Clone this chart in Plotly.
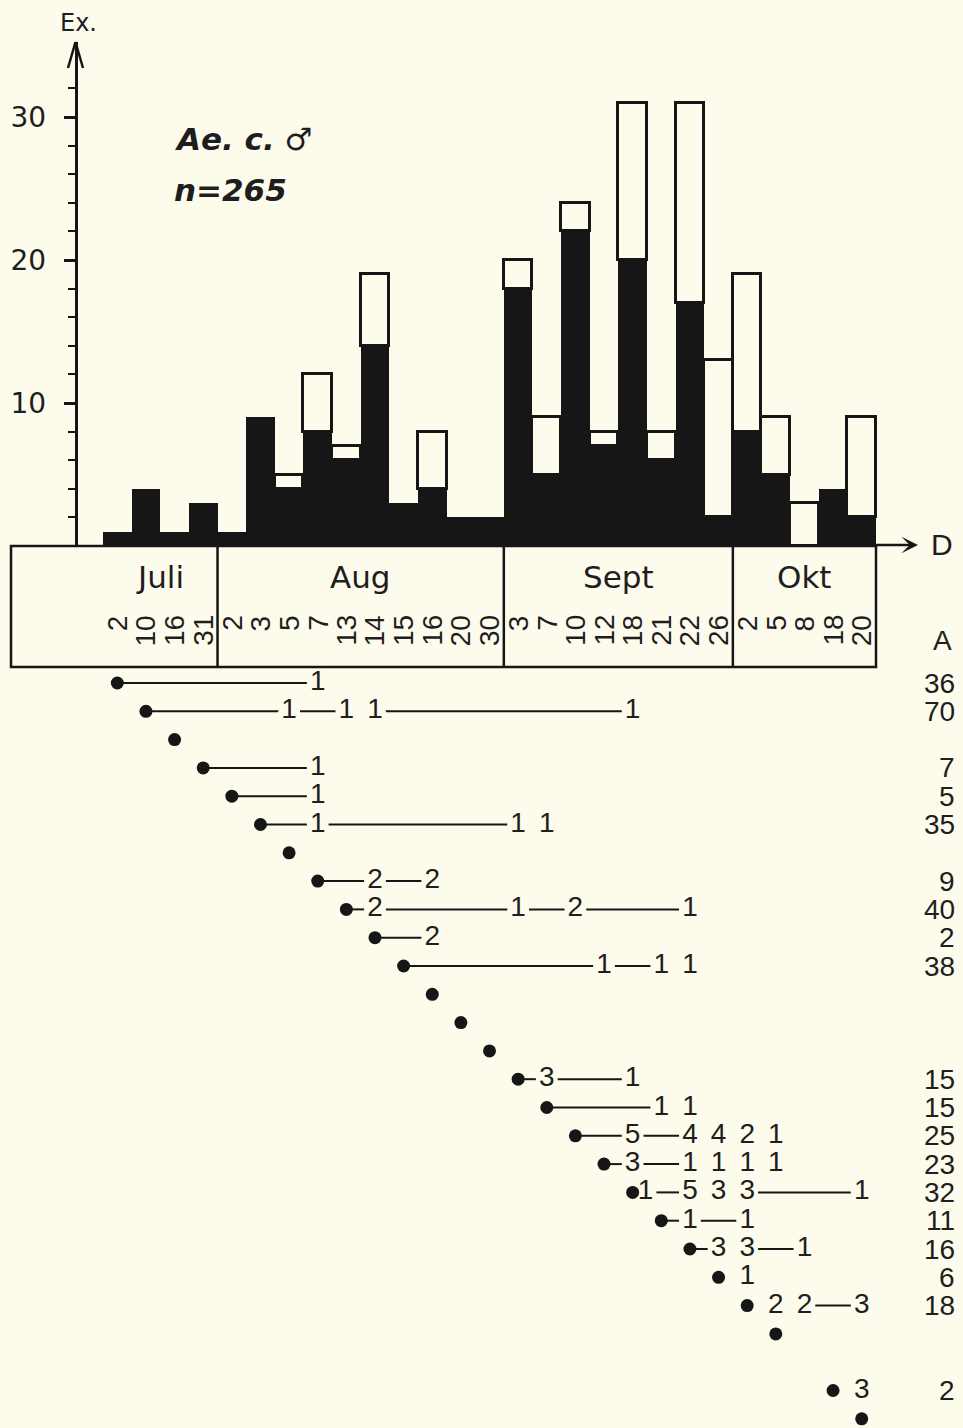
import plotly.graph_objects as go

# ---------------- data ----------------
months = ["Juli", "Aug", "Sept", "Okt"]
month_days = [
    ["2", "10", "16", "31"],
    ["2", "3", "5", "7", "13", "14", "15", "16", "20", "30"],
    ["3", "7", "10", "12", "18", "21", "22", "26"],
    ["2", "5", "8", "18", "20"],
]
# histogram (Ex.) per sampling date: black = newly marked, white = recaptured
newly_marked = [1, 4, 1, 3, 1, 9, 4, 8, 6, 14, 3, 4, 2, 2, 18, 5, 22, 7, 20, 6, 17, 2, 8, 5, 0, 4, 2]
recaptured = [0, 0, 0, 0, 0, 0, 1, 4, 1, 5, 0, 4, 0, 0, 2, 4, 2, 1, 11, 2, 14, 11, 11, 4, 3, 0, 7]

# recapture diagram: one row per marking date (index into the date list)
mark_date = [0, 1, 2, 3, 4, 5, 6, 7, 8, 9, 10, 11, 12, 13, 14, 15, 16, 17, 18, 19, 20, 21, 22, 23, 25, 26]
recap_dates = [
    [7], [6, 8, 9, 18], [], [7], [7], [7, 14, 15], [], [9, 11], [9, 14, 16, 20], [11],
    [17, 19, 20], [], [], [], [15, 18], [19, 20], [18, 20, 21, 22, 23], [18, 20, 21, 22, 23],
    [18, 20, 21, 22, 26], [20, 22], [21, 22, 24], [22], [23, 24, 26], [], [26], [],
]
recap_counts = [
    [1], [1, 1, 1, 1], [], [1], [1], [1, 1, 1], [], [2, 2], [2, 1, 2, 1], [2],
    [1, 1, 1], [], [], [], [3, 1], [1, 1], [5, 4, 4, 2, 1], [3, 1, 1, 1, 1],
    [1, 5, 3, 3, 1], [1, 1], [3, 3, 1], [1], [2, 2, 3], [], [3], [],
]
A_values = [36, 70, None, 7, 5, 35, None, 9, 40, 2, 38, None, None, None,
            15, 15, 25, 23, 32, 11, 16, 6, 18, None, 2, None]
# whether the dot is joined by a dash to a recapture on the very next date
dot_joined = [True] * 21 + [False, False, True, False, True]

y_ticks = [10, 20, 30]
y_minor_ticks = list(range(2, 33, 2))

# ---------------- layout helpers ----------------
FIG_W, FIG_H = 963, 1428
COL_W = 28.63
COL0_LEFT = 103
Y_ZERO_PX, Y_UNIT, Y_TIP = 546, 14.3, 42
ROW0_PX, ROW_H = 683, 28.3
AXIS_X_PX = 75.5
BG = "#fdfbec"
INK = "#161616"
TXT = "#1e1e1e"
FONT = "DejaVu Sans"
NUM_FONT = "Liberation Sans"


def xd(px):
    return (px - COL0_LEFT) / COL_W - 0.5


def yp(py):
    return 1 - py / FIG_H


n_dates = sum(len(m) for m in month_days)
dates_flat = [d for m in month_days for d in m]
idx = list(range(n_dates))

fig = go.Figure()

# histogram bars
fig.add_trace(go.Bar(
    x=idx, y=newly_marked, width=1, marker=dict(color=INK, line=dict(width=0)),
    xaxis="x", yaxis="y", showlegend=False, hoverinfo="skip",
))
fig.add_trace(go.Bar(
    x=idx, y=[v if v else None for v in recaptured], width=1,
    marker=dict(color=BG, line=dict(color=INK, width=3.5)),
    xaxis="x", yaxis="y", showlegend=False, hoverinfo="skip",
))

# recapture diagram
GAP_OFF = 0.38
SAME_DAY_SHIFT = 0.45
seg_x, seg_y, tx, ty, ts = [], [], [], [], []
for m, cols, cnts, join in zip(mark_date, recap_dates, recap_counts, dot_joined):
    pts = [(m, m, True)]
    for c, n in zip(cols, cnts):
        xpos = c + SAME_DAY_SHIFT if c == m else c
        pts.append((c, xpos, False))
        tx.append(xpos)
        ty.append(m)
        ts.append(str(n))
    for (ca, xa, da), (cb, xb, db) in zip(pts[:-1], pts[1:]):
        gap = cb - ca
        if gap >= 2 or (gap == 1 and da and join):
            x0 = xa if da else xa + GAP_OFF
            x1 = xb - GAP_OFF
            seg_x += [x0, x1, None]
            seg_y += [m, m, None]

fig.add_trace(go.Scatter(
    x=seg_x, y=seg_y, mode="lines", line=dict(color=INK, width=2),
    xaxis="x", yaxis="y2", showlegend=False, hoverinfo="skip", cliponaxis=False,
))
fig.add_trace(go.Scatter(
    x=mark_date, y=mark_date, mode="markers", marker=dict(color=INK, size=13),
    xaxis="x", yaxis="y2", showlegend=False, hoverinfo="skip", cliponaxis=False,
))
fig.add_trace(go.Scatter(
    x=tx, y=ty, text=ts, mode="text", textposition="middle center",
    textfont=dict(family=NUM_FONT, size=28, color=TXT),
    xaxis="x", yaxis="y2", showlegend=False, hoverinfo="skip", cliponaxis=False,
))


def label(text, xpx, ypx, size, xanchor="center", family=FONT, **kw):
    return dict(text=text, x=xpx / FIG_W, y=yp(ypx), xref="paper", yref="paper",
                xanchor=xanchor, yanchor="middle", showarrow=False,
                font=dict(family=family, size=size, color=TXT), **kw)


annotations = []
# A column
annotations.append(label("A", 942, 640, 28, family=NUM_FONT))
for m, a in zip(mark_date, A_values):
    if a is not None:
        annotations.append(dict(text=str(a), x=957 / FIG_W, y=m, xref="paper", yref="y2",
                                xanchor="right", yanchor="middle", showarrow=False,
                                font=dict(family=NUM_FONT, size=28, color=TXT)))

# date table
shapes = []
table_left = xd(11)
table_right = n_dates - 0.5
shapes.append(dict(type="rect", xref="x", yref="paper", x0=table_left, x1=table_right,
                   y0=yp(667), y1=yp(546), line=dict(color=INK, width=2.5)))
start = 0
for name, days in zip(months, month_days):
    end = start + len(days)
    if end < n_dates:
        shapes.append(dict(type="line", xref="x", yref="paper", x0=end - 0.5, x1=end - 0.5,
                           y0=yp(667), y1=yp(546), line=dict(color=INK, width=2.5)))
    annotations.append(dict(text=name, x=(start + end - 1) / 2, y=yp(577), xref="x", yref="paper",
                            xanchor="center", yanchor="middle",
                            showarrow=False, font=dict(family=FONT, size=31, color=TXT)))
    start = end
for i, d in enumerate(dates_flat):
    annotations.append(dict(text=d, x=i, y=yp(614), xref="x", yref="paper",
                            xanchor="center", yanchor="top",
                            textangle=-90, showarrow=False, borderpad=0,
                            font=dict(family=NUM_FONT, size=28, color=TXT)))

# x-axis arrow and label D
annotations.append(dict(text="", x=918 / FIG_W, y=yp(545), xref="paper", yref="paper",
                        ax=-44, ay=0, showarrow=True, arrowhead=3, arrowsize=1.1,
                        arrowwidth=2.5, arrowcolor=INK, standoff=0))
annotations.append(label("D", 942, 544, 30, family=NUM_FONT))

# y-axis arrow head and label
for dx in (-7.5, 7.5):
    shapes.append(dict(type="line", xref="paper", yref="paper",
                       x0=AXIS_X_PX / FIG_W, y0=yp(Y_TIP), x1=(AXIS_X_PX + dx) / FIG_W, y1=yp(68),
                       line=dict(color=INK, width=2.5)))
annotations.append(label("Ex.", 78, 23, 24))

# title
annotations.append(label("<b><i>Ae. c.</i></b> ♂", 172, 139, 31, xanchor="left"))
annotations.append(label("<b><i>n=265</i></b>", 172, 190, 31, xanchor="left"))

fig.update_layout(
    width=FIG_W, height=FIG_H,
    margin=dict(l=0, r=0, t=0, b=0),
    paper_bgcolor=BG, plot_bgcolor=BG,
    barmode="stack", bargap=0,
    xaxis=dict(domain=[0, 1], range=[xd(0), xd(FIG_W)], visible=False, anchor="y"),
    yaxis=dict(
        domain=[yp(Y_ZERO_PX), yp(Y_TIP)],
        range=[0, (Y_ZERO_PX - Y_TIP) / Y_UNIT],
        anchor="free", position=AXIS_X_PX / FIG_W,
        showline=True, linecolor=INK, linewidth=2.5,
        showgrid=False, zeroline=False,
        ticks="outside", ticklen=11, tickwidth=2.5, tickcolor=INK,
        tickvals=y_ticks, ticktext=[str(v) for v in y_ticks],
        tickfont=dict(family=FONT, size=28, color=TXT),
        ticklabelstandoff=12,
        minor=dict(ticks="outside", tickvals=y_minor_ticks, ticklen=7, tickwidth=2, tickcolor=INK),
    ),
    yaxis2=dict(
        domain=[0, yp(Y_ZERO_PX)],
        range=[(FIG_H - ROW0_PX) / ROW_H, -(ROW0_PX - Y_ZERO_PX) / ROW_H],
        visible=False, anchor="x",
    ),
    annotations=annotations,
    shapes=shapes,
)

fig.write_html(
    "out.html",
    config={"displayModeBar": False},
    post_script="document.body.style.margin='0';document.body.style.overflow='hidden';"
                "document.body.style.background='" + BG + "';",
)
